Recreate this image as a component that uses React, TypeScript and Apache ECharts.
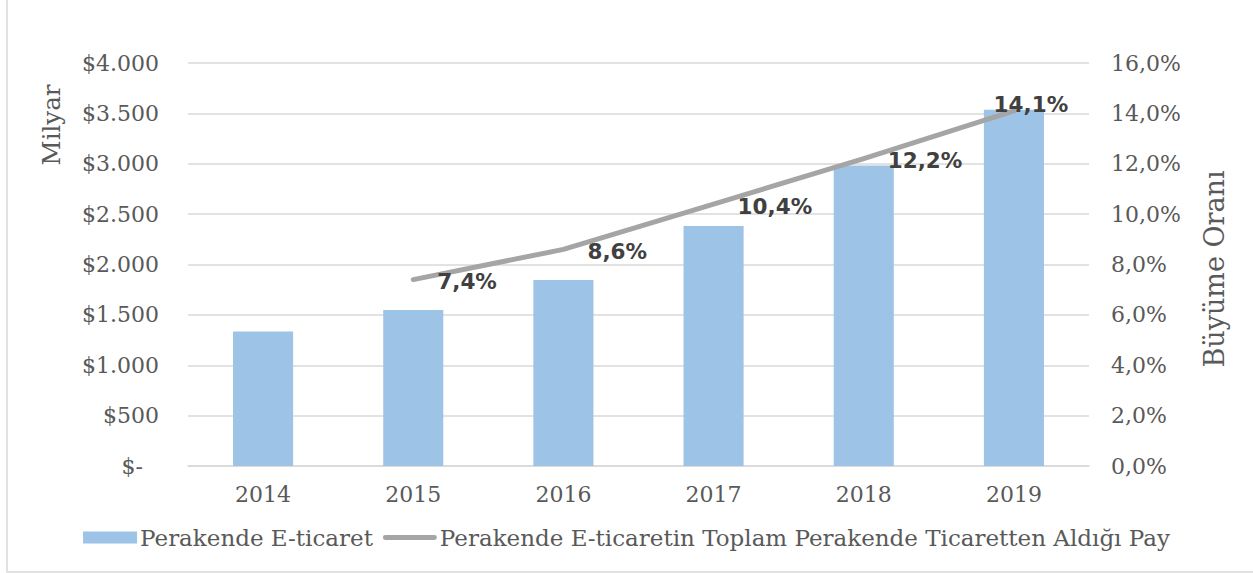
import React, { useEffect, useRef } from "react";
import * as echarts from "echarts";

const years = ["2014", "2015", "2016", "2017", "2018", "2019"];
const eCommerce = [1336, 1548, 1845, 2382, 2982, 3535];
const share: (number | null)[] = [null, 7.4, 8.6, 10.4, 12.2, 14.1];

const barName = "Perakende E-ticaret";
const lineName = "Perakende E-ticaretin Toplam Perakende Ticaretten Aldığı Pay";
const leftTitle = "Milyar";
const rightTitle = "Büyüme Oranı";

const SERIF = "'DejaVu Serif', serif";
const SANS = "'DejaVu Sans', sans-serif";
const TEXT = "#595959";
const GRIDC = "#D9D9D9";

export default function App() {
  const ref = useRef<HTMLDivElement>(null);
  useEffect(() => {
    if (!ref.current) return;
    const chart = echarts.init(ref.current, null, { renderer: "svg" });
    const lastIdx = share.length - 1;
    chart.setOption({
      animation: false,
      backgroundColor: "#fff",
      grid: { left: 188, right: 164, top: 63, bottom: 107 },
      legend: {
        left: "center",
        top: 521,
        itemWidth: 54,
        itemHeight: 12,
        itemGap: 10,
        textStyle: { fontFamily: SERIF, fontSize: 23, color: TEXT, padding: [0, 0, 0, -2] },
        data: [
          { name: barName, icon: "rect" },
          {
            name: lineName,
            icon: "path://M0,0M0,12M2.5,3.5L53.5,3.5A2.5,2.5,0,0,1,53.5,8.5L2.5,8.5A2.5,2.5,0,0,1,2.5,3.5Z",
          },
        ],
      },
      xAxis: {
        type: "category",
        data: years,
        axisTick: { show: false },
        axisLine: { lineStyle: { color: GRIDC, width: 1.5 } },
        axisLabel: { fontFamily: SERIF, fontSize: 22, color: TEXT, margin: 17 },
      },
      yAxis: [
        {
          type: "value",
          min: 0,
          max: 4000,
          interval: 500,
          axisLine: { show: false },
          axisTick: { show: false },
          splitLine: { lineStyle: { color: GRIDC, width: 1.5 } },
          axisLabel: {
            fontFamily: SERIF,
            fontSize: 22,
            color: TEXT,
            margin: 29,
            formatter: (v: number) =>
              v === 0 ? "{z|$-}" : "$" + v.toLocaleString("de-DE"),
            rich: {
              z: { fontFamily: SERIF, fontSize: 22, color: TEXT, padding: [0, 16, 0, 0] },
            },
          },
        },
        {
          type: "value",
          min: 0,
          max: 16,
          interval: 2,
          axisLine: { show: false },
          axisTick: { show: false },
          splitLine: { show: false },
          axisLabel: {
            fontFamily: SERIF,
            fontSize: 22,
            color: TEXT,
            margin: 22,
            formatter: (v: number) => v.toFixed(1).replace(".", ",") + "%",
          },
        },
      ],
      series: [
        {
          name: barName,
          type: "bar",
          data: eCommerce,
          barWidth: "40%",
          itemStyle: { color: "#9DC3E6" },
          yAxisIndex: 0,
        },
        {
          name: lineName,
          type: "line",
          yAxisIndex: 1,
          data: share.map((v, i) =>
            i === lastIdx
              ? { value: v, label: { position: "top", offset: [17, 11] } }
              : v
          ),
          symbol: "circle",
          symbolSize: 2,
          itemStyle: { color: "#A5A5A5" },
          lineStyle: { color: "#A5A5A5", width: 5, cap: "round", join: "round" },
          label: {
            show: true,
            position: "right",
            offset: [18, 2],
            fontFamily: SANS,
            fontWeight: "bold",
            fontSize: 21.5,
            color: "#404040",
            formatter: (p: any) =>
              p.value == null ? "" : Number(p.value).toFixed(1).replace(".", ",") + "%",
          },
        },
      ],
      graphic: [
        {
          type: "rect",
          shape: { x: 7, y: -5, width: 1260, height: 577 },
          style: { fill: "none", stroke: GRIDC, lineWidth: 1.5 },
          silent: true,
        },
        {
          type: "text",
          x: 51,
          y: 125,
          rotation: Math.PI / 2,
          style: {
            text: leftTitle,
            fontFamily: SERIF,
            fontSize: 24.5,
            fill: TEXT,
            align: "center",
            verticalAlign: "middle",
          },
        },
        {
          type: "text",
          x: 1214,
          y: 269,
          rotation: Math.PI / 2,
          style: {
            text: rightTitle,
            fontFamily: SERIF,
            fontSize: 27,
            fill: TEXT,
            align: "center",
            verticalAlign: "middle",
          },
        },
      ],
    });
    return () => chart.dispose();
  }, []);
  return (
    <div
      ref={ref}
      style={{ position: "absolute", left: 0, top: 0, width: 1253, height: 573 }}
    />
  );
}
